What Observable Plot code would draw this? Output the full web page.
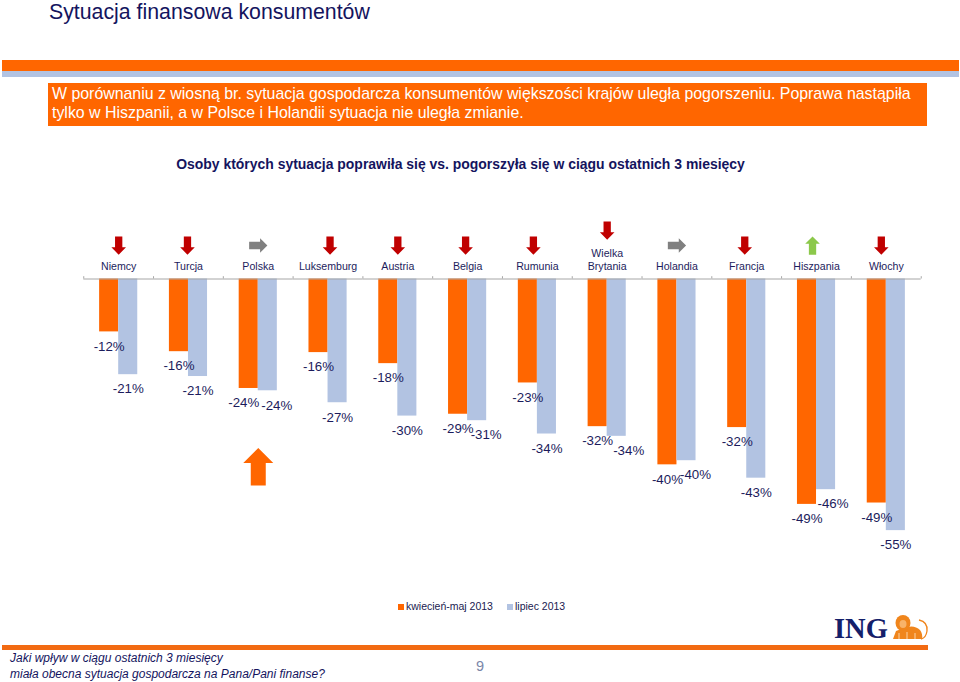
<!DOCTYPE html>
<html lang="pl">
<head>
<meta charset="utf-8">
<script src="https://cdn.jsdelivr.net/npm/d3@7"></script>
<script src="https://cdn.jsdelivr.net/npm/@observablehq/plot@0.6"></script>
<style>
html,body{margin:0;padding:0;background:#fff}
body{position:relative;width:960px;height:682px;overflow:hidden;font-family:"Liberation Sans",Arial,sans-serif}
.a{position:absolute;white-space:nowrap}
#title{left:49px;top:-1px;font-size:21.3px;line-height:26px;color:#14145e}
#b1{left:2px;top:59.5px;width:957px;height:11px;background:#ff6600}
#b2{left:2px;top:70.5px;width:957px;height:6px;background:#b2c3e2}
#box{left:47.5px;top:83px;width:879.5px;height:43px;background:#ff6600;color:#fff;font-size:15.9px;line-height:19px;box-sizing:border-box;padding:1px 0 0 4.5px}
#sub{left:0;width:921px;text-align:center;top:155.5px;font-size:13.95px;line-height:16px;font-weight:bold;color:#14145e}
#chart{left:0;top:205px}
#legend{left:398px;top:600px;font-size:10.5px;line-height:12px;color:#1a1a50}
#legend i{display:inline-block;width:6px;height:6px;margin-right:2px}
#foot{left:2px;top:645px;width:926px;height:4.5px;background:#f26a12}
#q{left:10px;top:650px;font-size:12px;line-height:16px;font-style:italic;color:#14145e}
#page{left:476px;top:657px;font-size:14.5px;line-height:18px;color:#7a86a8}
#ing{left:834px;top:615px;font-family:"Liberation Serif",serif;font-weight:bold;font-size:28.5px;line-height:28px;color:#14206a}
</style>
</head>
<body>
<div class="a" id="title">Sytuacja finansowa konsumentów</div>
<div class="a" id="b1"></div><div class="a" id="b2"></div>
<div class="a" id="box">W porównaniu z wiosną br. sytuacja gospodarcza konsumentów większości krajów uległa pogorszeniu. Poprawa nastąpiła<br>tylko w Hiszpanii, a w Polsce i Holandii sytuacja nie uległa zmianie.</div>
<div class="a" id="sub">Osoby których sytuacja poprawiła się vs. pogorszyła się w ciągu ostatnich 3 miesięcy</div>
<div class="a" id="chart"></div>
<div class="a" id="legend"></div>
<div class="a" id="ing">ING</div>
<svg class="a" style="left:890px;top:614px" width="40" height="27" viewBox="0 0 40 27"><path d="M3 25 L6 17 L14 14 Q24 10 30 16 Q33 20 32 25 Z" fill="#f0851c"/><ellipse cx="13" cy="9" rx="7.5" ry="8" fill="#f0851c"/><ellipse cx="13" cy="10" rx="3.5" ry="4" fill="#f8b36a"/><path d="M9 25 V19 M17 25 V18 M25 25 V19" stroke="#fbd3a6" stroke-width="1" fill="none"/><path d="M29 6 Q38 8 37 17 Q36 24 31 25" fill="none" stroke="#f0851c" stroke-width="1.3"/></svg>
<div class="a" id="foot"></div>
<div class="a" id="q">Jaki wpływ w ciągu ostatnich 3 miesięcy<br>miała obecna sytuacja gospodarcza na Pana/Pani finanse?</div>
<div class="a" id="page">9</div>
<script>
const countries = ["Niemcy","Turcja","Polska","Luksemburg","Austria","Belgia","Rumunia","Wielka\nBrytania","Holandia","Francja","Hiszpania","Włochy"];
const spring = [-11.5,-15.8,-23.8,-16,-18.4,-29.4,-22.6,-32.1,-40.4,-32.3,-49,-48.7];
const summer = [-20.8,-21.2,-24.3,-26.9,-29.8,-30.8,-33.7,-34.2,-39.5,-43.3,-45.8,-54.7];
const trend = ["down","down","flat","down","down","down","down","down","flat","down","up","down"];
const seriesNames = ["kwiecień-maj 2013","lipiec 2013"];
const seriesColors = ["#ff6600","#b2c3e2"];
const trendColors = {down:"#c00000",flat:"#808080",up:"#8cc84b"};
const trendAngle = {up:0,flat:90,down:180};

const rows = countries.flatMap((c,i)=>[
  {country:c,series:seriesNames[0],value:spring[i]},
  {country:c,series:seriesNames[1],value:summer[i]}
]);
const arrows = countries.map((c,i)=>({country:c,trend:trend[i]}));

// block arrow, pointing up; r is half of the head's width
const blockArrow = {draw(ctx,size){
  const s=Math.sqrt(size/Math.PI);
  const p=[[0,-1.25],[1,-.25],[.5,-.25],[.5,1.25],[-.5,1.25],[-.5,-.25],[-1,-.25]];
  p.forEach(([x,y],i)=>i?ctx.lineTo(x*s,y*s):ctx.moveTo(x*s,y*s));
  ctx.closePath();
}};

const ink="#1c1c5c";
// the source's hand placed labels, nudged sideways from their bars
const labelNudge = new Map([
  [seriesNames[0]+"Polska",-5],
  [seriesNames[1]+"Polska",9],
  [seriesNames[1]+"Belgia",9],
  [seriesNames[1]+"Wielka\nBrytania",12],
  [seriesNames[1]+"Holandia",9],
  [seriesNames[1]+"Hiszpania",7]
]);
const nudgeOf=d=>labelNudge.get(d.series+d.country)||0;
const arrowNudge = new Map([["Turcja",-1],["Luksemburg",2],["Belgia",-2],["Rumunia",-4],["Francja",-2],["Hiszpania",-4],["Włochy",-5]]);
const arrowGroups = d3.groups(arrows,d=>(arrowNudge.get(d.country)||0)+"|"+(d.country.includes("\n")?1:0));
const labelGroups = d3.groups(rows,nudgeOf);

const plot = Plot.plot({
  width:960,height:385,
  marginLeft:83.3,marginRight:39.3,marginTop:0,marginBottom:0,
  fx:{domain:countries,padding:0,round:false,axis:null},
  x:{domain:seriesNames,paddingInner:0,paddingOuter:.83,round:false,axis:null},
  y:{domain:[0,-60],range:[73.5,349.5],axis:null},
  color:{domain:seriesNames,range:seriesColors},
  style:{background:"transparent",fontFamily:'"Liberation Sans",Arial,sans-serif'},
  marks:[
    Plot.barY(rows,{fx:"country",x:"series",y:"value",fill:"series"}),
    Plot.ruleY([0],{stroke:"#a6a6a6",strokeWidth:1}),
    Plot.ruleX(countries,{fx:d=>d,x:()=>seriesNames[0],y1:0,y2:.5,dx:-25.4,stroke:"#a6a6a6"}),
    Plot.ruleX(countries.slice(-1),{fx:d=>d,x:()=>seriesNames[1],y1:0,y2:.5,dx:25.4,stroke:"#a6a6a6"}),
    ...labelGroups.map(([dx,g])=>Plot.text(g,{fx:"country",x:"series",y:"value",text:d=>d3.format(".0f")(d.value).replace("−","-")+"%",dx,dy:14.5,fill:ink,fontSize:13.3})),
    Plot.text(countries,{fx:d=>d,y:()=>0,text:d=>d,dy:-9,lineAnchor:"bottom",fill:ink,fontSize:10.6,lineHeight:1.2}),
    ...arrowGroups.map(([k,g])=>{
      const [dx,tall]=k.split("|").map(Number);
      return Plot.dot(g,{fx:"country",y:()=>0,dx,dy:tall?-48.5:-33.5,r:7.3,symbol:()=>blockArrow,rotate:d=>trendAngle[d.trend],fill:d=>trendColors[d.trend]});
    }),
    // large annotation arrow below Polska
    Plot.dot(["Polska"],{fx:d=>d,y:()=>-40.8,r:15,symbol:()=>blockArrow,fill:seriesColors[0]})
  ]
});
document.getElementById("chart").append(plot);
document.getElementById("legend").innerHTML=seriesNames.map((n,i)=>`<span style="margin-right:${i?0:14}px"><i style="background:${seriesColors[i]}"></i>${n}</span>`).join("");
</script>
</body>
</html>
